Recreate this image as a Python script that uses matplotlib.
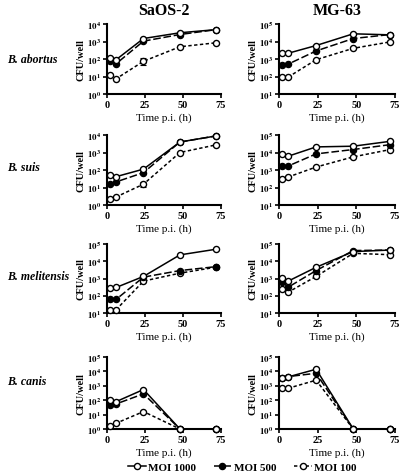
import matplotlib
matplotlib.use("Agg")
import matplotlib.pyplot as plt
import numpy as np
from matplotlib.lines import Line2D

plt.rcParams['font.family'] = ['Liberation Serif', 'DejaVu Serif']
plt.rcParams['mathtext.fontset'] = 'stix'

# time points (h)
hours = [2, 6, 24, 48, 72]

species = ["B. abortus", "B. suis", "B. melitensis", "B. canis"]
cells = ["SaOS-2", "MG-63"]

# log10 CFU/well
# SaOS-2
saos_abortus_1000 = [2.08, 1.96, 3.17, 3.50, 3.68]
saos_abortus_500 = [1.87, 1.73, 3.02, 3.40, 3.68]
saos_abortus_100 = [1.06, 0.87, 1.87, 2.70, 2.93]

saos_suis_1000 = [1.70, 1.62, 2.05, 3.60, 3.95]
saos_suis_500 = [1.19, 1.32, 1.85, 3.60, 3.95]
saos_suis_100 = [0.36, 0.46, 1.19, 3.00, 3.44]

saos_melit_1000 = [2.44, 2.48, 3.12, 4.37, 4.70]
saos_melit_500 = [1.79, 1.79, 3.08, 3.46, 3.69]
saos_melit_100 = [1.19, 1.19, 2.85, 3.31, 3.66]

saos_canis_1000 = [2.02, 1.90, 2.74, 0.0, 0.0]
saos_canis_500 = [1.70, 1.74, 2.44, 0.0, 0.0]
saos_canis_100 = [0.19, 0.40, 1.21, 0.0, 0.0]

# MG-63
mg_abortus_1000 = [3.33, 3.33, 3.77, 4.44, 4.38]
mg_abortus_500 = [2.68, 2.71, 3.46, 4.17, 4.40]
mg_abortus_100 = [1.97, 1.97, 2.96, 3.61, 3.98]

mg_suis_1000 = [3.89, 3.79, 4.32, 4.36, 4.64]
mg_suis_500 = [3.23, 3.23, 3.92, 4.17, 4.45]
mg_suis_100 = [2.51, 2.60, 3.17, 3.75, 4.17]

mg_melit_1000 = [3.02, 2.85, 3.65, 4.56, 4.65]
mg_melit_500 = [2.79, 2.50, 3.46, 4.62, 4.65]
mg_melit_100 = [2.40, 2.21, 3.12, 4.46, 4.38]

mg_canis_1000 = [3.53, 3.62, 4.15, 0.0, 0.0]
mg_canis_500 = [3.57, 3.64, 3.87, 0.0, 0.0]
mg_canis_100 = [2.83, 2.83, 3.39, 0.0, 0.0]

# small error bars (log10) on MOI 100 where visible
saos_abortus_100_err = [0.0, 0.0, 0.2, 0.0, 0.0]
saos_suis_100_err = [0.0, 0.0, 0.15, 0.0, 0.0]

# y ranges (log10 decades)
ylims = {
    ("SaOS-2", 0): (0, 4), ("MG-63", 0): (1, 5),
    ("SaOS-2", 1): (0, 4), ("MG-63", 1): (1, 5),
    ("SaOS-2", 2): (1, 5), ("MG-63", 2): (1, 5),
    ("SaOS-2", 3): (0, 5), ("MG-63", 3): (0, 5),
}

data = {
    ("SaOS-2", 0): (saos_abortus_1000, saos_abortus_500, saos_abortus_100, saos_abortus_100_err),
    ("SaOS-2", 1): (saos_suis_1000, saos_suis_500, saos_suis_100, saos_suis_100_err),
    ("SaOS-2", 2): (saos_melit_1000, saos_melit_500, saos_melit_100, None),
    ("SaOS-2", 3): (saos_canis_1000, saos_canis_500, saos_canis_100, None),
    ("MG-63", 0): (mg_abortus_1000, mg_abortus_500, mg_abortus_100, None),
    ("MG-63", 1): (mg_suis_1000, mg_suis_500, mg_suis_100, None),
    ("MG-63", 2): (mg_melit_1000, mg_melit_500, mg_melit_100, None),
    ("MG-63", 3): (mg_canis_1000, mg_canis_500, mg_canis_100, None),
}

fig = plt.figure(figsize=(4.0, 4.77), dpi=100)

# axes boxes in pixels (top, bottom) per row, (left, right) per column
rows_px = [(25, 95), (136, 206), (245, 314), (358, 430)]
label_y_px = [60, 168, 277, 382]
cols_px = {"SaOS-2": (107, 221), "MG-63": (279, 395)}
W, H = 400.0, 477.0

lw = 1.1
ms = 4.4
for cell in cells:
    x0, x1 = cols_px[cell]
    for i, sp in enumerate(species):
        t, b = rows_px[i]
        ax = fig.add_axes([x0 / W, 1 - b / H, (x1 - x0) / W, (b - t) / H])
        s1000, s500, s100, err100 = data[(cell, i)]
        ax.plot(hours, 10 ** np.array(s100), linestyle=(0, (2.2, 1.6)), color='black', lw=lw,
                marker='o', mfc='white', mec='black', ms=ms, mew=1.0, clip_on=False, zorder=3)
        if err100 is not None:
            v = np.array(s100)
            e = np.array(err100)
            lo = 10 ** v - 10 ** (v - e)
            hi = 10 ** (v + e) - 10 ** v
            ax.errorbar(hours, 10 ** v, yerr=[lo, hi], fmt='none', ecolor='black',
                        elinewidth=0.8, capsize=2, capthick=0.8, zorder=2)
        ax.plot(hours, 10 ** np.array(s500), linestyle=(0, (5, 1.8)), color='black', lw=lw,
                marker='o', mfc='black', mec='black', ms=ms, mew=1.0, clip_on=False, zorder=4)
        ax.plot(hours, 10 ** np.array(s1000), linestyle='-', color='black', lw=lw,
                marker='o', mfc='white', mec='black', ms=ms, mew=1.0, clip_on=False, zorder=5)

        ax.set_yscale('log')
        lo_d, hi_d = ylims[(cell, i)]
        ax.set_ylim(10 ** lo_d, 10 ** hi_d)
        ax.set_yticks([10 ** d for d in range(lo_d, hi_d + 1)])
        ax.set_yticklabels([r'$\mathbf{10^{%d}}$' % d for d in range(lo_d, hi_d + 1)], fontsize=6.5)
        ax.minorticks_off()
        ax.set_xlim(0, 75)
        ax.set_xticks([0, 25, 50, 75])
        ax.set_xticklabels(['0', '25', '50', '75'], fontsize=7.5, fontweight='bold')
        for side in ['top', 'right']:
            ax.spines[side].set_visible(False)
        for side in ['left', 'bottom']:
            ax.spines[side].set_linewidth(1.5)
        ax.tick_params(width=1.2, length=3, pad=1.5)
        ax.patch.set_alpha(0)
        ax.set_ylabel('CFU/well', fontsize=7.5, fontweight='bold', labelpad=1)
        ax.set_xlabel('Time p.i. (h)', fontsize=8, labelpad=2)

        if i == 0:
            ax.set_title(cell, fontsize=11.5, fontweight='bold', pad=7)
        if cell == "SaOS-2":
            fig.text(7 / W, 1 - label_y_px[i] / H, sp, fontsize=8.5, fontweight='bold',
                     fontstyle='italic', ha='left', va='center')

handles = [
    Line2D([], [], linestyle='-', color='black', lw=lw, marker='o', mfc='white', mec='black', ms=ms),
    Line2D([], [], linestyle=(0, (5, 1.8)), color='black', lw=lw, marker='o', mfc='black', mec='black', ms=ms),
    Line2D([], [], linestyle=(0, (2.2, 1.6)), color='black', lw=lw, marker='o', mfc='white', mec='black', ms=ms),
]
fig.legend(handles, ['MOI 1000', 'MOI 500', 'MOI 100'], loc='center', ncol=3,
           bbox_to_anchor=(242 / W, 1 - 468 / H), frameon=False, handlelength=1.6,
           handletextpad=0.2, columnspacing=1.6, prop={'weight': 'bold', 'size': 8})

fig.savefig('out.png', dpi=100)
